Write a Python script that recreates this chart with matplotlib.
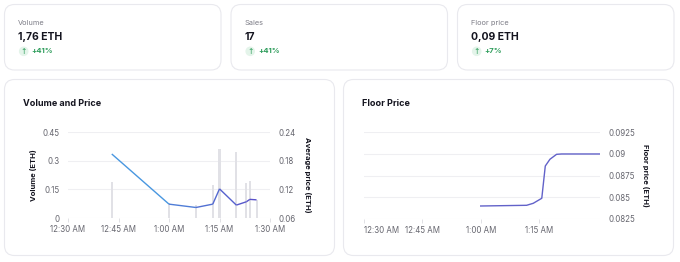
import matplotlib
matplotlib.use("Agg")
import matplotlib.pyplot as plt
import matplotlib.dates as mdates
from matplotlib.patches import FancyBboxPatch, Circle
from matplotlib.collections import LineCollection
from matplotlib.colors import LinearSegmentedColormap
import numpy as np
import pandas as pd

plt.rcParams['font.family'] = ['Inter', 'DejaVu Sans']

# --- stat cards ---
card_titles = ["Volume", "Sales", "Floor price"]
card_values = ["1,76 ETH", "17", "0,09 ETH"]
card_changes = ["+41%", "+41%", "+7%"]

# --- volume and price ---
trade_times = ["00:43", "01:00", "01:08", "01:13", "01:15", "01:20", "01:23", "01:24", "01:26"]
volumes = [0.19, 0.078, 0.068, 0.173, 0.36, 0.347, 0.183, 0.194, 0.094]
avg_prices = [0.194, 0.089, 0.082, 0.089, 0.121, 0.087, 0.094, 0.099, 0.098]
vol_tick_times = ["00:30", "00:45", "01:00", "01:15", "01:30"]
vol_tick_labels = ["12:30 AM", "12:45 AM", "1:00 AM", "1:15 AM", "1:30 AM"]
vol_yticks = [0, 0.15, 0.3, 0.45]
vol_ylabels = ["0", "0.15", "0.3", "0.45"]
price_yticks = [0.06, 0.12, 0.18, 0.24]
price_ylabels = ["0.06", "0.12", "0.18", "0.24"]

# --- floor price ---
floor_times = ["01:00:00", "01:11:48", "01:13:30", "01:15:42", "01:16:36",
               "01:17:48", "01:19:30", "01:20:48", "01:30:40"]
floor_prices = [0.0840, 0.08408, 0.08431, 0.08489, 0.08861, 0.08939, 0.08996, 0.0900, 0.0900]
floor_tick_times = ["00:30", "00:45", "01:00", "01:15"]
floor_tick_labels = ["12:30 AM", "12:45 AM", "1:00 AM", "1:15 AM"]
floor_yticks = [0.0825, 0.085, 0.0875, 0.09, 0.0925]
floor_ylabels = ["0.0825", "0.085", "0.0875", "0.09", "0.0925"]


def to_num(ts):
    return mdates.date2num(pd.to_datetime(["2024-01-01 " + t for t in ts], format="mixed"))


W, H = 680, 262
fig = plt.figure(figsize=(W / 100, H / 100), dpi=100)
fig.patch.set_facecolor("white")


def px_axes(left, top, right, bottom, **kw):
    return fig.add_axes([left / W, 1 - bottom / H, (right - left) / W, (bottom - top) / H], **kw)


# background overlay for cards and texts
bg = fig.add_axes([0, 0, 1, 1], zorder=0)
bg.set_xlim(0, W)
bg.set_ylim(H, 0)
bg.axis("off")

border = "#e9e9ee"
dark = "#14141f"
green = "#2f9d5c"
grey_txt = "#7c7c86"

card_x = [4.5, 231, 457.5]
for x0, t, v, c in zip(card_x, card_titles, card_values, card_changes):
    bg.add_patch(FancyBboxPatch((x0, 4.5), 216.5, 65.5, boxstyle="round,pad=0,rounding_size=10",
                                fc="white", ec=border, lw=0.8))
    bg.text(x0 + 13.5, 23, t, fontsize=5.3, color=grey_txt, va="center", ha="left")
    bg.text(x0 + 13.5, 37.5, v, fontsize=7.5, color=dark, weight="bold", va="center", ha="left")
    bg.add_patch(Circle((x0 + 19.2, 51.3), 4.8, fc="#e4f4ea", ec="none"))
    bg.text(x0 + 19.2, 51.5, "↑", fontsize=5.5, color=green, va="center", ha="center",
            family="DejaVu Sans")
    bg.text(x0 + 27, 51.3, c, fontsize=5.5, color=green, weight="bold", va="center", ha="left")

bg.add_patch(FancyBboxPatch((4.5, 79.5), 330, 176, boxstyle="round,pad=0,rounding_size=10",
                            fc="white", ec=border, lw=0.8))
bg.add_patch(FancyBboxPatch((343.5, 79.5), 330, 176, boxstyle="round,pad=0,rounding_size=10",
                            fc="white", ec=border, lw=0.8))
bg.text(23, 104, "Volume and Price", fontsize=6.5, weight="bold", color=dark, va="center", ha="left")
bg.text(362, 104, "Floor Price", fontsize=6.5, weight="bold", color=dark, va="center", ha="left")

grid_c = "#efeff2"
tick_c = "#66666f"

# --- volume and price chart ---
ax = px_axes(68, 132, 270, 218, zorder=1)
ax.set_facecolor("none")
xt = to_num(trade_times)
ax.bar(xt, volumes, width=0.6 / 1440, color="#e1e1e6", zorder=2)
ax.set_xlim(to_num(["00:30"])[0], to_num(["01:30"])[0])
ax.set_ylim(0, 0.45)
ax.set_yticks(vol_yticks, vol_ylabels)
ax.set_xticks(to_num(vol_tick_times), vol_tick_labels)
ax.yaxis.grid(True, color=grid_c, lw=0.8)
ax.set_axisbelow(True)
for s in ax.spines.values():
    s.set_visible(False)
ax.tick_params(axis="y", length=0, labelsize=5.7, labelcolor=tick_c, pad=6)
ax.tick_params(axis="x", length=3, color="#dcdce0", width=0.6, labelsize=5.7, labelcolor=tick_c, pad=2)
ax.set_ylabel("Volume (ETH)", fontsize=5.5, weight="bold", color=dark, labelpad=4)

ax2 = ax.twinx()
ax2.set_ylim(0.06, 0.24)
ax2.set_yticks(price_yticks, price_ylabels)
for s in ax2.spines.values():
    s.set_visible(False)
ax2.tick_params(axis="y", length=0, labelsize=5.7, labelcolor=tick_c, pad=6)
ax2.set_ylabel("Average price (ETH)", fontsize=5.5, weight="bold", color=dark,
               rotation=-90, va="bottom", labelpad=6)
cmap = LinearSegmentedColormap.from_list("grad", ["#45a8e6", "#5a50c8"])
pts = np.column_stack([xt, avg_prices])
segs = np.stack([pts[:-1], pts[1:]], axis=1)
mids = (xt[:-1] + xt[1:]) / 2
seg_colors = cmap((mids - xt[0]) / (xt[-1] - xt[0]))
ax2.add_collection(LineCollection(segs, colors=seg_colors, linewidths=1.0, zorder=3))

# --- floor price chart ---
ax3 = px_axes(364, 132.3, 600, 219, zorder=1)
ax3.set_facecolor("none")
ax3.plot(to_num(floor_times), floor_prices, color="#6262c9", lw=1.0)
ax3.set_xlim(to_num(["00:30"])[0], to_num(["01:30:40"])[0])
ax3.set_ylim(0.0825, 0.0925)
ax3.yaxis.tick_right()
ax3.yaxis.set_label_position("right")
ax3.set_yticks(floor_yticks, floor_ylabels)
ax3.set_xticks(to_num(floor_tick_times), floor_tick_labels)
ax3.get_xticklabels()[0].set_horizontalalignment("left")
ax3.yaxis.grid(True, color=grid_c, lw=0.8)
ax3.set_axisbelow(True)
for s in ax3.spines.values():
    s.set_visible(False)
ax3.tick_params(axis="y", length=0, labelsize=5.7, labelcolor=tick_c, pad=6)
ax3.tick_params(axis="x", length=3, color="#dcdce0", width=0.6, labelsize=5.7, labelcolor=tick_c, pad=2)
ax3.set_ylabel("Floor price (ETH)", fontsize=5.5, weight="bold", color=dark,
               rotation=-90, va="bottom", labelpad=5)

fig.savefig("out.png", dpi=100, facecolor="white")
